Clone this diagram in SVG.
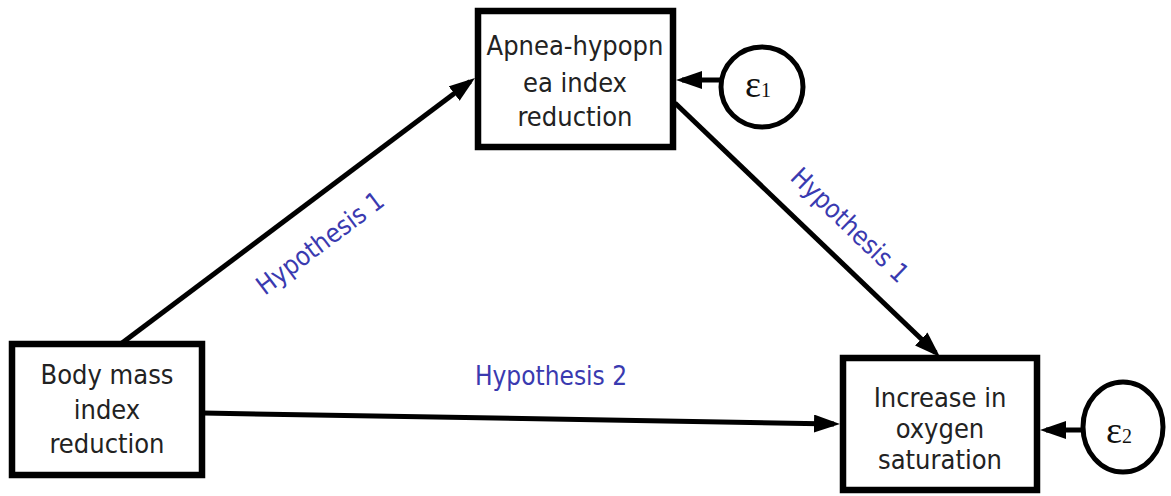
<svg xmlns="http://www.w3.org/2000/svg" width="1171" height="496" viewBox="0 0 1171 496">
<style>
.box{fill:#fff;stroke:#000;stroke-width:6.5}
.err{fill:#fff;stroke:#000;stroke-width:5}
.lbl{font-family:"DejaVu Sans","Liberation Sans",sans-serif;font-stretch:condensed;font-size:27px;fill:#222;text-anchor:middle}
.hyp{font-family:"DejaVu Sans","Liberation Sans",sans-serif;font-stretch:condensed;font-size:26px;fill:#3a3ab0;text-anchor:middle}
.eps{font-family:"Liberation Serif",serif;font-size:38px;fill:#111}
.edge{stroke:#000;stroke-width:5;fill:none;marker-end:url(#ah)}
</style>
<defs>
<marker id="ah" markerUnits="userSpaceOnUse" markerWidth="28" markerHeight="20" refX="20" refY="9" orient="auto">
<path d="M0,0 L26,9 L0,18 z" fill="#000"/>
</marker>
</defs>
<rect width="1171" height="496" fill="#fff"/>
<g id="connectors">
<line class="edge" x1="122" y1="343" x2="470.2" y2="81.6"/>
<line class="edge" x1="675" y1="103" x2="935.7" y2="352.8"/>
<line class="edge" x1="203" y1="413" x2="834" y2="423.9"/>
<line class="edge" x1="721" y1="80" x2="682" y2="80"/>
<line class="edge" x1="1083" y1="430" x2="1046" y2="430"/>
<text class="hyp" transform="translate(320,243) rotate(-37)" y="9">Hypothesis 1</text>
<text class="hyp" transform="translate(850,225) rotate(44)" y="9">Hypothesis 1</text>
<text class="hyp" x="551" y="385">Hypothesis 2</text>
</g>
<g id="ahi">
<rect class="box" x="478" y="11" width="195" height="136"/>
<text class="lbl" x="575" y="55">Apnea-hypopn</text>
<text class="lbl" x="575" y="92">ea index</text>
<text class="lbl" x="575" y="126">reduction</text>
</g>
<g id="bmi">
<rect class="box" x="12" y="344" width="190" height="131"/>
<text class="lbl" x="107" y="384">Body mass</text>
<text class="lbl" x="107" y="419">index</text>
<text class="lbl" x="107" y="453">reduction</text>
</g>
<g id="oxy">
<rect class="box" x="843" y="358" width="194" height="132"/>
<text class="lbl" x="940" y="407">Increase in</text>
<text class="lbl" x="940" y="438">oxygen</text>
<text class="lbl" x="940" y="469">saturation</text>
</g>
<g id="e1">
<ellipse class="err" cx="762" cy="87" rx="41" ry="40"/>
<text class="eps" x="745" y="97">ε<tspan font-size="20">1</tspan></text>
</g>
<g id="e2">
<ellipse class="err" cx="1123" cy="427" rx="40" ry="45"/>
<text class="eps" x="1106" y="443">ε<tspan font-size="20">2</tspan></text>
</g>
</svg>
